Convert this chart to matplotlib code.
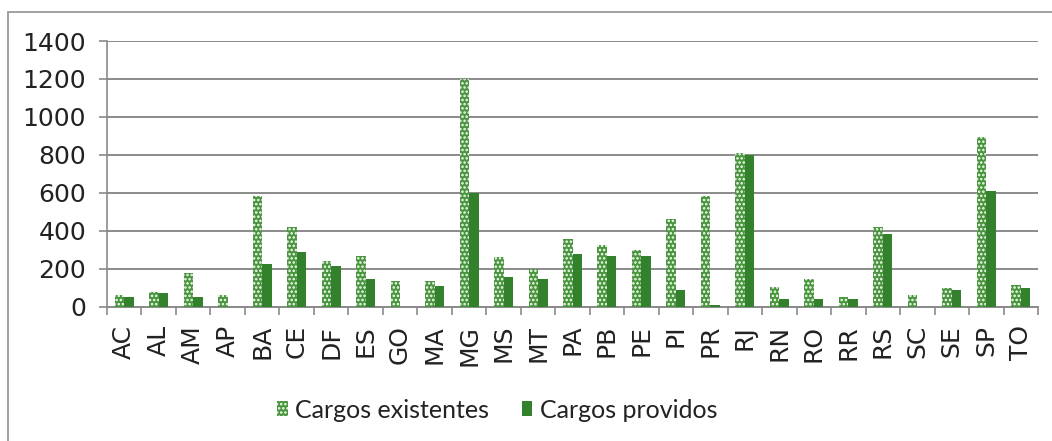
import matplotlib
matplotlib.use("Agg")
import matplotlib.pyplot as plt
import numpy as np
from matplotlib.patches import Rectangle

states = ["AC", "AL", "AM", "AP", "BA", "CE", "DF", "ES", "GO", "MA", "MG", "MS", "MT", "PA",
          "PB", "PE", "PI", "PR", "RJ", "RN", "RO", "RR", "RS", "SC", "SE", "SP", "TO"]
cargos_existentes = [60, 79, 176, 60, 585, 422, 241, 269, 135, 135, 1200, 260, 200, 355,
                     325, 299, 460, 583, 811, 105, 146, 49, 420, 60, 98, 896, 114]
cargos_providos = [50, 70, 49, 0, 223, 290, 213, 146, 0, 109, 599, 155, 146, 279,
                   269, 269, 88, 9, 799, 40, 40, 40, 383, 0, 88, 611, 100]
yticks = [0, 200, 400, 600, 800, 1000, 1200, 1400]

W, H = 1052, 441
fig = plt.figure(figsize=(W / 100, H / 100), dpi=100)
fig.patch.set_facecolor("white")

# outer chart border (cut off at right/bottom like the reference)
fig.add_artist(Rectangle((8 / W, -0.05), 1.2, 1 - 12 / H + 0.05, transform=fig.transFigure,
                         fill=False, edgecolor="#9a9a9a", linewidth=1.3))

ax = fig.add_axes([107 / W, 1 - 306.7 / H, (1038 - 107) / W, (306.7 - 41) / H])
x = np.arange(len(states))
bw = 0.275

plt.rcParams["hatch.linewidth"] = 1.2
ax.bar(x - bw / 2, cargos_existentes, width=bw, color="#4a9440", edgecolor="#f4fff0",
       hatch="....", linewidth=0, label="Cargos existentes", zorder=3)
ax.bar(x + bw / 2, cargos_providos, width=bw, color="#33802d", linewidth=0,
       label="Cargos providos", zorder=3)

ax.set_xlim(-0.5, len(states) - 0.5)
ax.set_ylim(0, 1400)
ax.set_yticks(yticks)
ax.set_yticklabels([str(v) for v in yticks], fontsize=18, color="#222222", family="DejaVu Sans")
ax.yaxis.grid(True, color="#8a8a8a", linewidth=1.4, zorder=0)
ax.set_axisbelow(True)

ax.set_xticks(np.arange(len(states) + 1) - 0.5)
ax.set_xticklabels([])
ax.set_xticks(x, minor=True)
ax.set_xticklabels(states, minor=True, rotation=90, fontsize=18, color="#222222", family="DejaVu Sans")
ax.tick_params(axis="x", which="major", length=6, color="#8a8a8a", width=1.2, direction="out")
ax.tick_params(axis="x", which="minor", length=0, pad=13)
ax.tick_params(axis="y", length=6, color="#8a8a8a", width=1.2, pad=9)

for s in ["top", "right"]:
    ax.spines[s].set_visible(False)
ax.spines["left"].set_color("#8a8a8a")
ax.spines["left"].set_linewidth(1.2)
ax.spines["bottom"].set_color("#8a8a8a")
ax.spines["bottom"].set_linewidth(1.4)

leg = fig.legend(loc="center", bbox_to_anchor=(497 / W, 1 - 410 / H), ncol=2, frameon=False,
                 prop={"family": "Lato", "size": 18}, handlelength=0.42, handleheight=0.55,
                 handletextpad=0.3, columnspacing=1.3)
for t in leg.get_texts():
    t.set_color("#222222")

fig.savefig("out.png", dpi=100, facecolor="white")
